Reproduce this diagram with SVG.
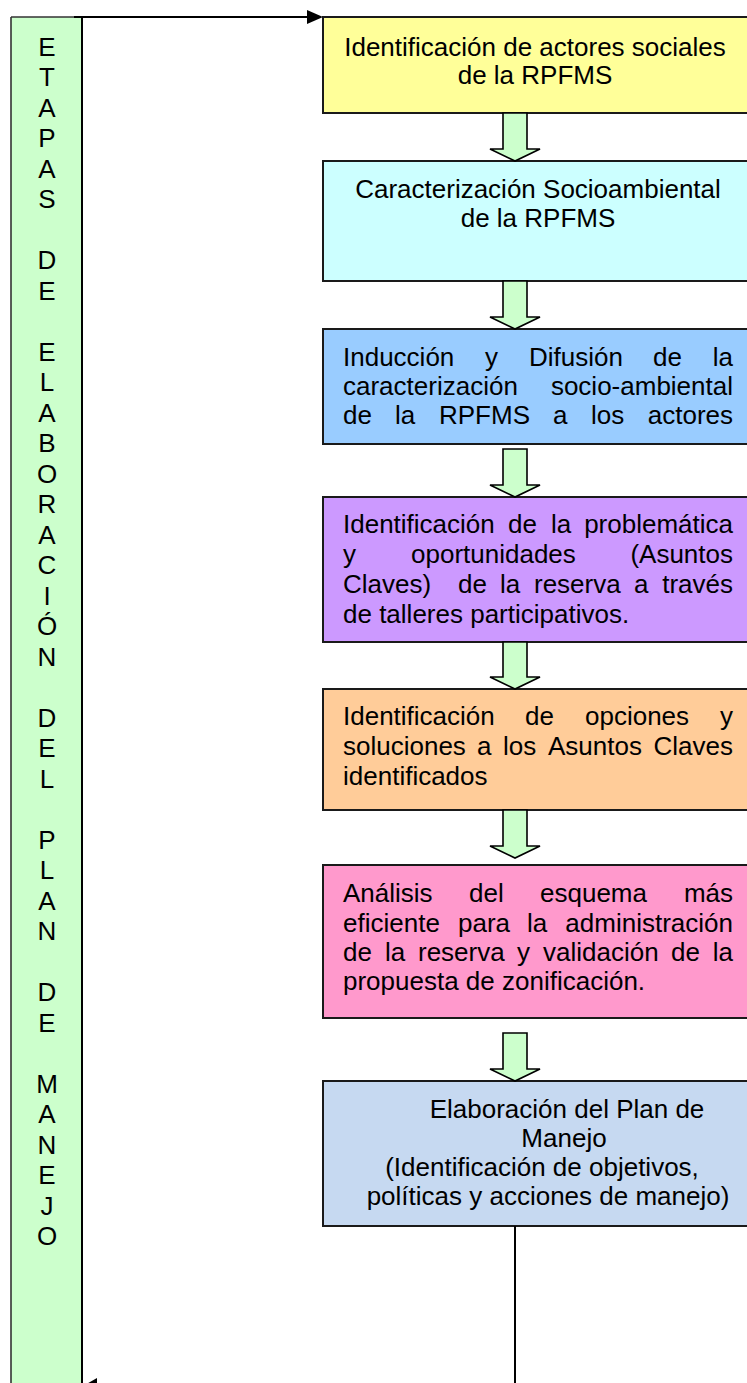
<svg xmlns="http://www.w3.org/2000/svg" width="747" height="1383" viewBox="0 0 747 1383">
<defs>
<style>
.box{stroke:#1a1a1a;stroke-width:2}
.t{font-family:"Liberation Sans",Arial,sans-serif;font-size:26px;fill:#000}
.c{text-anchor:middle}
.e{text-anchor:end}
.arr{fill:#ccffcc;stroke:#000;stroke-width:1.6;stroke-linejoin:miter}
.ln{stroke:#000;stroke-width:2;fill:none}
</style>
</defs>
<rect width="747" height="1383" fill="#ffffff"/>

<g id="etapas">
<rect x="11" y="17" width="71" height="1400" fill="#ccffcc" stroke="none"/>
<line x1="11" y1="17" x2="11" y2="1383" stroke="#333" stroke-width="1.6"/>
<line x1="11" y1="17" x2="82" y2="17" stroke="#333" stroke-width="1.6"/>
<line x1="82" y1="17" x2="82" y2="1383" stroke="#000" stroke-width="2"/>
<g class="t c">
<text x="47" y="56">E</text>
<text x="47" y="86">T</text>
<text x="47" y="117">A</text>
<text x="47" y="147">P</text>
<text x="47" y="178">A</text>
<text x="47" y="208">S</text>
<text x="47" y="269">D</text>
<text x="47" y="300">E</text>
<text x="47" y="361">E</text>
<text x="47" y="391">L</text>
<text x="47" y="422">A</text>
<text x="47" y="452">B</text>
<text x="47" y="483">O</text>
<text x="47" y="513">R</text>
<text x="47" y="544">A</text>
<text x="47" y="574">C</text>
<text x="47" y="605">I</text>
<text x="47" y="635">Ó</text>
<text x="47" y="666">N</text>
<text x="47" y="727">D</text>
<text x="47" y="757">E</text>
<text x="47" y="788">L</text>
<text x="47" y="849">P</text>
<text x="47" y="879">L</text>
<text x="47" y="910">A</text>
<text x="47" y="940">N</text>
<text x="47" y="1001">D</text>
<text x="47" y="1032">E</text>
<text x="47" y="1093">M</text>
<text x="47" y="1123">A</text>
<text x="47" y="1154">N</text>
<text x="47" y="1184">E</text>
<text x="47" y="1215">J</text>
<text x="47" y="1245">O</text>
</g>
</g>

<g id="n1">
<rect class="box" x="323" y="17" width="440" height="96" fill="#ffff99"/>
<text class="t c" x="535" y="56">Identificación de actores sociales</text>
<text class="t c" x="535" y="84">de la RPFMS</text>
</g>

<g id="n2">
<rect class="box" x="323" y="161" width="440" height="120" fill="#ccffff"/>
<text class="t c" x="538" y="198">Caracterización Socioambiental</text>
<text class="t c" x="538" y="227">de la RPFMS</text>
</g>

<g id="n3">
<rect class="box" x="323" y="329" width="440" height="115" fill="#99ccff"/>
<g class="t">
<text x="343" y="366">Inducción</text><text x="485" y="366">y</text><text x="529" y="366">Difusión</text><text x="653" y="366">de</text><text class="e" x="733" y="366">la</text>
<text x="343" y="395">caracterización</text><text class="e" x="733" y="395">socio-ambiental</text>
<text x="343" y="424">de</text><text x="395" y="424">la</text><text x="439" y="424">RPFMS</text><text x="553" y="424">a</text><text x="591" y="424">los</text><text class="e" x="733" y="424">actores</text>
</g>
</g>

<g id="n4">
<rect class="box" x="323" y="497" width="440" height="145" fill="#cc99ff"/>
<g class="t">
<text x="343" y="533">Identificación</text><text x="508" y="533">de</text><text x="551" y="533">la</text><text class="e" x="733" y="533">problemática</text>
<text x="343" y="563">y</text><text x="411" y="563">oportunidades</text><text class="e" x="733" y="563">(Asuntos</text>
<text x="343" y="593">Claves)</text><text x="458" y="593">de</text><text x="500" y="593">la</text><text x="534" y="593">reserva</text><text x="634" y="593">a</text><text class="e" x="733" y="593">través</text>
<text x="343" y="623">de talleres participativos.</text>
</g>
</g>

<g id="n5">
<rect class="box" x="323" y="689" width="440" height="121" fill="#ffcc99"/>
<g class="t">
<text x="343" y="725">Identificación</text><text x="525" y="725">de</text><text x="585" y="725">opciones</text><text class="e" x="733" y="725">y</text>
<text x="343" y="755">soluciones</text><text x="477" y="755">a</text><text x="503" y="755">los</text><text x="548" y="755">Asuntos</text><text class="e" x="733" y="755">Claves</text>
<text x="343" y="785">identificados</text>
</g>
</g>

<g id="n6">
<rect class="box" x="323" y="865" width="440" height="153" fill="#ff99cc"/>
<g class="t">
<text x="343" y="902">Análisis</text><text x="469" y="902">del</text><text x="540" y="902">esquema</text><text class="e" x="733" y="902">más</text>
<text x="343" y="932">eficiente</text><text x="458" y="932">para</text><text x="527" y="932">la</text><text class="e" x="733" y="932">administración</text>
<text x="343" y="961">de</text><text x="385" y="961">la</text><text x="418" y="961">reserva</text><text x="517" y="961">y</text><text x="543" y="961">validación</text><text x="671" y="961">de</text><text class="e" x="733" y="961">la</text>
<text x="343" y="990">propuesta de zonificación.</text>
</g>
</g>

<g id="n7">
<rect class="box" x="323" y="1081" width="440" height="145" fill="#c6d9f1"/>
<g class="t c">
<text x="567" y="1118">Elaboración del Plan de</text>
<text x="564" y="1147">Manejo</text>
<text x="542" y="1176">(Identificación de objetivos,</text>
<text x="548" y="1205">políticas y acciones de manejo)</text>
</g>
</g>

<g id="connectors">
<path class="arr" d="M503,113 H527 V149 H540 L515,161 L490,149 H503 Z"/>
<path class="arr" d="M503,281 H527 V317 H540 L515,329 L490,317 H503 Z"/>
<path class="arr" d="M503,449 H527 V485 H540 L515,497 L490,485 H503 Z"/>
<path class="arr" d="M503,642 H527 V677 H540 L515,689 L490,677 H503 Z"/>
<path class="arr" d="M503,810 H527 V846 H540 L515,858 L490,846 H503 Z"/>
<path class="arr" d="M503,1033 H527 V1069 H540 L515,1081 L490,1069 H503 Z"/>
<line class="ln" x1="74" y1="17" x2="309" y2="17"/>
<polygon points="323,17 307,10 307,24" fill="#000"/>
<line class="ln" x1="515" y1="1226" x2="515" y2="1383" stroke-width="1.6"/>
<polygon points="83,1386 97,1378 97,1394" fill="#000"/>
</g>
</svg>
